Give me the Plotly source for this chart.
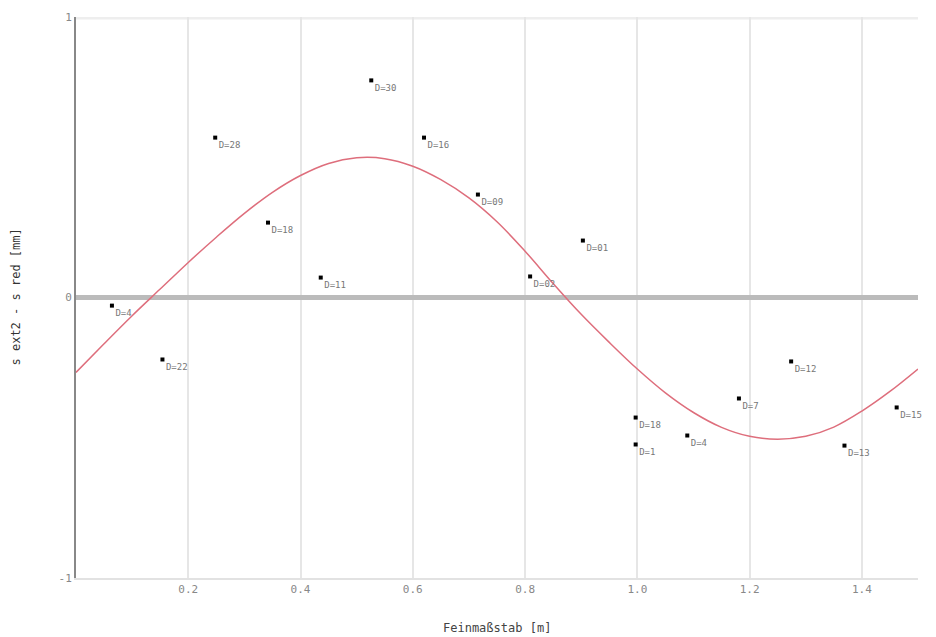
import plotly.graph_objects as go

# Measured points
pt_x = [0.064, 0.154, 0.248, 0.342, 0.436, 0.526, 0.620, 0.716, 0.809, 0.903,
        0.997, 0.997, 1.089, 1.181, 1.274, 1.369, 1.462]
pt_y = [-0.029, -0.221, 0.570, 0.267, 0.071, 0.774, 0.570, 0.367, 0.075, 0.203,
        -0.428, -0.524, -0.492, -0.360, -0.228, -0.528, -0.392]
pt_labels = ["D=4", "D=22", "D=28", "D=18", "D=11", "D=30", "D=16", "D=09", "D=02",
             "D=01", "D=18", "D=1", "D=4", "D=7", "D=12", "D=13", "D=15"]

# Fitted curve
curve_x = [0, 0.05, 0.1, 0.15, 0.2, 0.25, 0.3, 0.35, 0.4, 0.45, 0.5, 0.55,
           0.6, 0.65, 0.7, 0.75, 0.8, 0.85, 0.9, 0.95, 1.0, 1.05, 1.1, 1.15,
           1.2, 1.25, 1.3, 1.35, 1.4, 1.45, 1.5]
curve_y = [-0.267, -0.165, -0.065, 0.03, 0.125, 0.215, 0.300, 0.375, 0.435,
           0.478, 0.498, 0.495, 0.468, 0.420, 0.355, 0.270, 0.165, 0.050,
           -0.060, -0.160, -0.255, -0.340, -0.410, -0.463, -0.495, -0.505,
           -0.495, -0.462, -0.405, -0.335, -0.255]

x_ticks = [0.2, 0.4, 0.6, 0.8, 1.0, 1.2, 1.4]
x_tick_text = ["0.2", "0.4", "0.6", "0.8", "1.0", "1.2", "1.4"]
y_ticks = [-1, 0, 1]
y_tick_text = ["-1", "0", "1"]
x_title = "Feinmaßstab [m]"
y_title = "s ext2 - s red [mm]"

FONT = "DejaVu Sans Mono"

fig = go.Figure()
fig.add_trace(go.Scatter(
    x=curve_x, y=curve_y, mode="lines",
    line=dict(color="rgb(222,110,124)", width=1.5, shape="spline", smoothing=1.0),
    hoverinfo="skip", showlegend=False,
))
fig.add_trace(go.Scatter(
    x=pt_x, y=pt_y, mode="markers+text",
    marker=dict(symbol="square", size=4, color="black"),
    text=pt_labels, textposition="bottom right",
    textfont=dict(family=FONT, size=9, color="#777777"),
    cliponaxis=False, showlegend=False,
))

fig.add_shape(type="line", xref="paper", yref="y", x0=0, x1=1, y0=1, y1=1,
              line=dict(color="#eeeeee", width=5), layer="below")

fig.add_annotation(text=x_title, xref="paper", yref="paper", x=0.5, y=0,
                   xanchor="center", yanchor="middle", yshift=-50, showarrow=False,
                   font=dict(family=FONT, size=12, color="#444444"))
fig.add_annotation(text=y_title, xref="paper", yref="paper", x=0, y=0.5,
                   xanchor="center", yanchor="middle", xshift=-61, textangle=-90,
                   showarrow=False,
                   font=dict(family=FONT, size=12, color="#333333"))

fig.update_layout(
    width=928, height=629,
    margin=dict(l=68, r=18, t=9, b=59, autoexpand=False),
    paper_bgcolor="white", plot_bgcolor="white",
    font=dict(family=FONT, size=11, color="#777777"),
    xaxis=dict(
        range=[0, 1.5], tickvals=x_ticks, ticktext=x_tick_text,
        showgrid=True, gridcolor="#e6e6e6", gridwidth=2,
        zeroline=False, showline=True, linecolor="#e2e2e2", linewidth=2,
        ticks="", tickfont=dict(size=11, color="#888888"), automargin=False,
    ),
    yaxis=dict(
        range=[-1, 1], tickvals=y_ticks, ticktext=y_tick_text,
        showgrid=False,
        zeroline=True, zerolinecolor="#bbbbbb", zerolinewidth=5,
        showline=True, linecolor="#888888", linewidth=2,
        ticks="", tickfont=dict(size=11, color="#888888"), automargin=False,
    ),
)

fig.write_html("out.html")
